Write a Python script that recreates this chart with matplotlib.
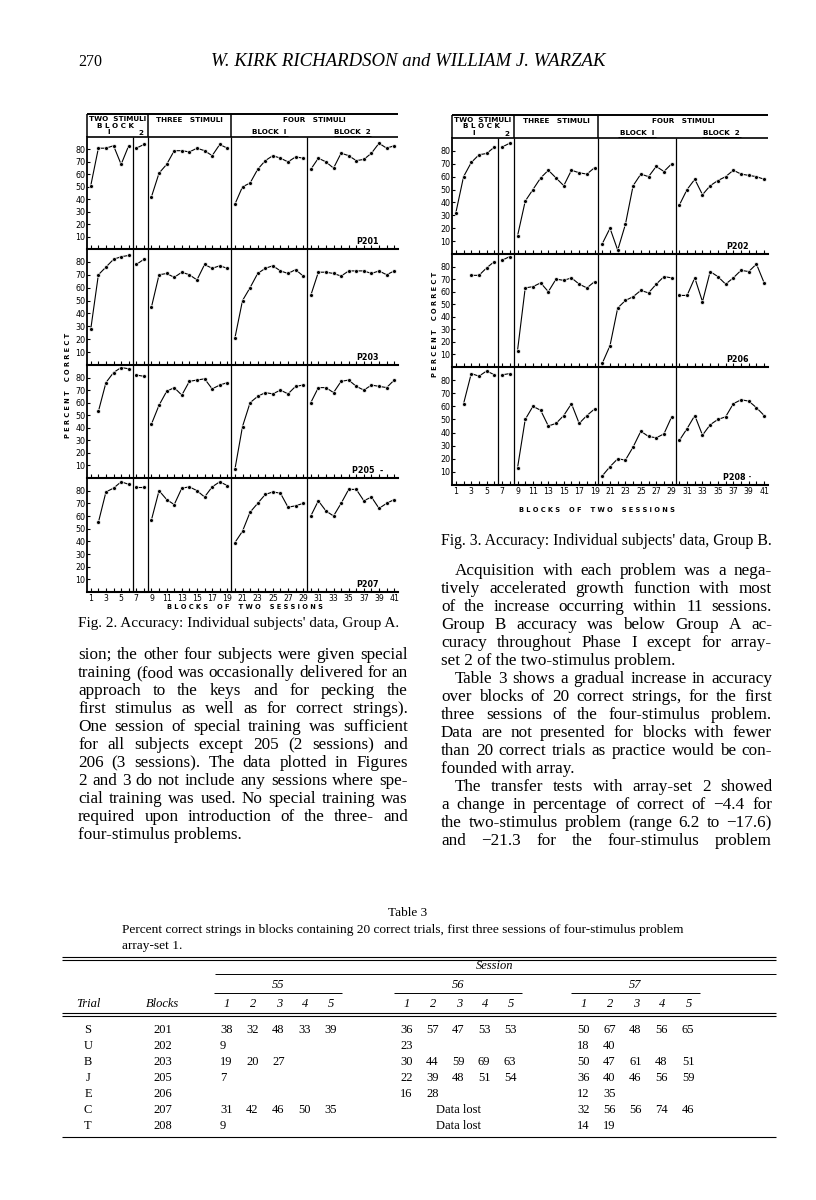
import numpy as np
import matplotlib.pyplot as plt

plt.rc("font", family="Liberation Serif")
plt.rc("lines", solid_capstyle="butt")

# ---- data ----
blocks = np.arange(1, 42)
segments = [(1, 6), (7, 8), (9, 19), (20, 29), (30, 41)]
y_ticks = [10, 20, 30, 40, 50, 60, 70, 80]

# Fig. 2, group A
p201 = [51, 81, 81, 83, 68, 83, 81, 84,
        42, 61, 68, 79, 79, 78, 81, 79, 75, 84, 81,
        36, 50, 53, 64, 71, 75, 73, 70, 74, 73,
        64, 73, 70, 65, 77, 75, 71, 72, 77, 85, 81, 83]
p203 = [28, 70, 76, 82, 84, 85, 78, 82,
        45, 70, 71, 68, 72, 70, 66, 78, 75, 77, 75,
        21, 50, 60, 71, 75, 77, 73, 71, 74, 69,
        54, 72, 72, 71, 69, 73, 73, 73, 71, 73, 70, 73]
p205 = [None, 53, 76, 84, 88, 87, 82, 81,
        43, 58, 69, 72, 66, 77, 78, 79, 71, 74, 76,
        7, 41, 60, 65, 68, 67, 70, 67, 73, 74,
        60, 72, 72, 68, 77, 78, 73, 70, 74, 73, 72, 78]
p207 = [None, 55, 79, 82, 87, 85, 83, 83,
        57, 80, 73, 69, 82, 83, 80, 75, 83, 87, 84,
        39, 48, 63, 70, 77, 79, 78, 67, 68, 70,
        60, 72, 64, 60, 70, 81, 81, 72, 75, 66, 70, 73]
# Fig. 3, group B
p202 = [32, 60, 71, 77, 78, 83, 83, 86,
        14, 41, 50, 59, 65, 59, 53, 65, 63, 62, 67,
        8, 20, 3, 23, 53, 62, 60, 68, 64, 70,
        38, 50, 58, 46, 53, 57, 60, 65, 62, 61, 60, 58]
p206 = [None, None, 73, 73, 79, 84, 85, 88,
        13, 63, 64, 67, 60, 70, 69, 71, 66, 63, 68,
        3, 17, 47, 53, 56, 61, 59, 66, 72, 71,
        57, 57, 71, 52, 76, 72, 66, 71, 77, 76, 82, 67]
p208 = [None, 62, 85, 83, 87, 84, 84, 85,
        13, 50, 60, 57, 45, 47, 53, 62, 47, 53, 58,
        7, 14, 20, 19, 29, 41, 37, 36, 39, 52,
        34, 43, 53, 38, 46, 50, 52, 62, 65, 64, 59, 53]

# Table 3
trials = ["S", "U", "B", "J", "E", "C", "T"]
subjects = ["201", "202", "203", "205", "206", "207", "208"]
s55 = [[38, 32, 48, 33, 39], [9], [19, 20, 27], [7], [], [31, 42, 46, 50, 35], [9]]
s56 = [[36, 57, 47, 53, 53], [23], [30, 44, 59, 69, 63], [22, 39, 48, 51, 54],
       [16, 28], "Data lost", "Data lost"]
s57 = [[50, 67, 48, 56, 65], [18, 40], [50, 47, 61, 48, 51], [36, 40, 46, 56, 59],
       [12, 35], [32, 56, 56, 74, 46], [14, 19]]

left_text = [
    "sion; the other four subjects were given special",
    "training (food was occasionally delivered for an",
    "approach to the keys and for pecking the",
    "first stimulus as well as for correct strings).",
    "One session of special training was sufficient",
    "for all subjects except 205 (2 sessions) and",
    "206 (3 sessions). The data plotted in Figures",
    "2 and 3 do not include any sessions where spe-",
    "cial training was used. No special training was",
    "required upon introduction of the three- and",
    "four-stimulus problems.",
]
right_par1 = [
    "Acquisition with each problem was a nega-",
    "tively accelerated growth function with most",
    "of the increase occurring within 11 sessions.",
    "Group B accuracy was below Group A ac-",
    "curacy throughout Phase I except for array-",
    "set 2 of the two-stimulus problem.",
]
right_par2 = [
    "Table 3 shows a gradual increase in accuracy",
    "over blocks of 20 correct strings, for the first",
    "three sessions of the four-stimulus problem.",
    "Data are not presented for blocks with fewer",
    "than 20 correct trials as practice would be con-",
    "founded with array.",
]
right_par3 = [
    "The transfer tests with array-set 2 showed",
    "a change in percentage of correct of \u22124.4 for",
    "the two-stimulus problem (range 6.2 to \u221217.6)",
    "and \u221221.3 for the four-stimulus problem",
]

# ---- page ----
W, H = 816, 1200
fig = plt.figure(figsize=(W / 100, H / 100), dpi=100)
page = fig.add_axes([0, 0, 1, 1])
page.set_xlim(0, W)
page.set_ylim(H, 0)
page.axis("off")

SANS = dict(family="DejaVu Sans", weight="bold")


def box(x0, y0, x1, y1):
    return fig.add_axes([x0 / W, 1 - y1 / H, (x1 - x0) / W, (y1 - y0) / H])


def draw_fig(left, right, top, head, bounds, series, names, ylab_xy):
    hx = box(left, top, right, head)
    hx.set_xlim(0.5, 41.5)
    hx.set_ylim(1, 0)
    hx.axis("off")
    hx.plot([0.5, 41.5], [0, 0], color="k", lw=1.4, clip_on=False)
    hx.plot([0.5, 41.5], [1, 1], color="k", lw=1.2, clip_on=False)
    for xv in (0.5, 8.5, 19.5):
        hx.plot([xv, xv], [0, 1], color="k", lw=1.1, clip_on=False)
    fs = 5.2
    hx.text(4.5, 0.2, "TWO  STIMULI", ha="center", va="center", fontsize=fs, **SANS)
    hx.text(4.3, 0.5, "B L O C K", ha="center", va="center", fontsize=fs, **SANS)
    hx.text(3.3, 0.8, "I", ha="center", va="center", fontsize=fs, **SANS)
    hx.text(7.6, 0.82, "2", ha="center", va="center", fontsize=fs, **SANS)
    hx.text(14, 0.25, "THREE   STIMULI", ha="center", va="center", fontsize=fs, **SANS)
    hx.text(30.5, 0.25, "FOUR   STIMULI", ha="center", va="center", fontsize=fs, **SANS)
    hx.text(24.5, 0.8, "BLOCK  I", ha="center", va="center", fontsize=fs, **SANS)
    hx.text(35.5, 0.8, "BLOCK  2", ha="center", va="center", fontsize=fs, **SANS)
    hx.plot([22.0, 27.0], [0.97, 0.97], color="k", lw=0.7)
    hx.plot([33.0, 38.0], [0.97, 0.97], color="k", lw=0.7)

    for k, ((y0, y1), vals, name) in enumerate(zip(bounds, series, names)):
        ax = box(left, y0, right, y1)
        ax.set_xlim(0.5, 41.5)
        ax.set_ylim(0, 90)
        for s in ("top", "right"):
            ax.spines[s].set_visible(False)
        ax.spines["left"].set_linewidth(1.3)
        ax.spines["bottom"].set_linewidth(1.5)
        for xv in (6.5, 8.5, 19.5, 29.5):
            ax.axvline(xv, color="k", lw=0.9)
        v = np.array([np.nan if a is None else a for a in vals], dtype=float)
        for a, b in segments:
            ax.plot(blocks[a - 1:b], v[a - 1:b], "-", color="k", lw=0.8,
                    marker="o", ms=2.8, mfc="k", mec="white", mew=0.5)
        ax.set_yticks(y_ticks)
        ax.set_yticklabels([str(t) for t in y_ticks], fontsize=5.8, family="DejaVu Sans")
        ax.set_xticks(blocks)
        if k == len(bounds) - 1:
            ax.set_xticklabels([str(b) if b % 2 else "" for b in blocks],
                               fontsize=5.6, family="DejaVu Sans")
        else:
            ax.set_xticklabels([])
        ax.tick_params(axis="x", direction="in", length=3, width=0.8, pad=1.2)
        ax.tick_params(axis="y", direction="in", length=2.5, width=0.8, pad=1)
        ax.text(37.5, 6, name, ha="center", va="center", fontsize=5.8, **SANS)
        ax.patch.set_alpha(0)

    page.text(ylab_xy[0], ylab_xy[1], "P E R C E N T    C O R R E C T", rotation=90,
              ha="center", va="center", fontsize=4.8, **SANS)


draw_fig(87, 398, 114, 137,
         [(137, 249), (249, 365), (365, 478), (478, 592)],
         [p201, p203, p205, p207], ["P201", "P203", "P205  -", "P207"], (68, 385))
page.text(245, 607, "B L O C K S    O F    T W O    S E S S I O N S", ha="center",
          va="center", fontsize=4.8, **SANS)
page.text(78, 624, "Fig. 2. Accuracy: Individual subjects' data, Group A.",
          fontsize=11, va="center")

draw_fig(452, 768, 115, 138,
         [(138, 254), (254, 367), (367, 485)],
         [p202, p206, p208], ["P202", "P206", "P208 \u00b7"], (435, 324))
page.text(597, 510, "B L O C K S    O F    T W O    S E S S I O N S", ha="center",
          va="center", fontsize=4.8, **SANS)
page.text(441, 541, "Fig. 3. Accuracy: Individual subjects' data, Group B.",
          fontsize=11.3, va="center")

# running head
page.text(78, 62, "270", fontsize=11.5, va="center")
page.text(408, 62, "W. KIRK RICHARDSON and WILLIAM J. WARZAK", fontsize=13.5,
          style="italic", ha="center", va="center")

renderer = fig.canvas.get_renderer()


def justify(lines, x0, x1, y, dy, size, indent=0.0, last=False):
    for i, line in enumerate(lines):
        xs = x0 + (indent if i == 0 else 0)
        yy = y + i * dy
        if i == len(lines) - 1 and not last:
            page.text(xs, yy, line, fontsize=size, va="baseline")
            continue
        words = line.split()
        ts = [page.text(0, yy, w, fontsize=size, va="baseline") for w in words]
        ws = [t.get_window_extent(renderer).width for t in ts]
        gap = (x1 - xs - sum(ws)) / (len(words) - 1)
        xc = xs
        for t, w in zip(ts, ws):
            t.set_x(xc)
            xc += w + gap
    return y + len(lines) * dy


justify(left_text, 78, 408, 659, 18, 12.3)
yy = justify(right_par1, 441, 772, 575, 18, 12.3, indent=14)
yy = justify(right_par2, 441, 772, yy, 18, 12.3, indent=14)
justify(right_par3, 441, 772, yy, 18, 12.3, indent=14, last=True)

# ---- Table 3 ----
page.text(408, 913, "Table 3", fontsize=9.5, ha="center", va="center")
page.text(122, 930, "Percent correct strings in blocks containing 20 correct trials, "
          "first three sessions of four-stimulus problem", fontsize=9.6, va="center")
page.text(122, 946, "array-set 1.", fontsize=9.6, va="center")

tl, tr = 62, 776
page.plot([tl, tr], [957, 957], color="k", lw=0.8)
page.plot([tl, tr], [959.5, 959.5], color="k", lw=0.8)
page.text(495, 966, "Session", fontsize=9, style="italic", ha="center", va="center")
page.plot([215, tr], [974, 974], color="k", lw=0.7)
groups = [("55", [220, 246, 272, 298, 324]),
          ("56", [400, 426, 452, 478, 504]),
          ("57", [577, 603, 629, 655, 682])]
for lab, cols in groups:
    page.text(np.mean(cols) + 6, 985, lab, fontsize=9, style="italic",
              ha="center", va="center")
    page.plot([cols[0] - 6, cols[-1] + 18], [993, 993], color="k", lw=0.7)
    for j, c in enumerate(cols):
        page.text(c + 4, 1004, str(j + 1), fontsize=9, style="italic", va="center")
page.text(88, 1004, "Trial", fontsize=9, style="italic", ha="center", va="center")
page.text(163, 1004, "Blocks", fontsize=9, style="italic", ha="center", va="center")
page.plot([tl, tr], [1013, 1013], color="k", lw=0.8)
page.plot([tl, tr], [1015.5, 1015.5], color="k", lw=0.8)

for i in range(len(trials)):
    y = 1030 + 16 * i
    page.text(88, y, trials[i], fontsize=9, ha="center", va="center")
    page.text(163, y, subjects[i], fontsize=9, ha="center", va="center")
    for (lab, cols), row in zip(groups, (s55[i], s56[i], s57[i])):
        if isinstance(row, str):
            page.text(np.mean(cols) + 6, y, row, fontsize=9, ha="center", va="center")
            continue
        for c, val in zip(cols, row):
            page.text(c, y, str(val), fontsize=9, va="center")
page.plot([tl, tr], [1137, 1137], color="k", lw=0.8)

fig.savefig("out.png", dpi=100)
